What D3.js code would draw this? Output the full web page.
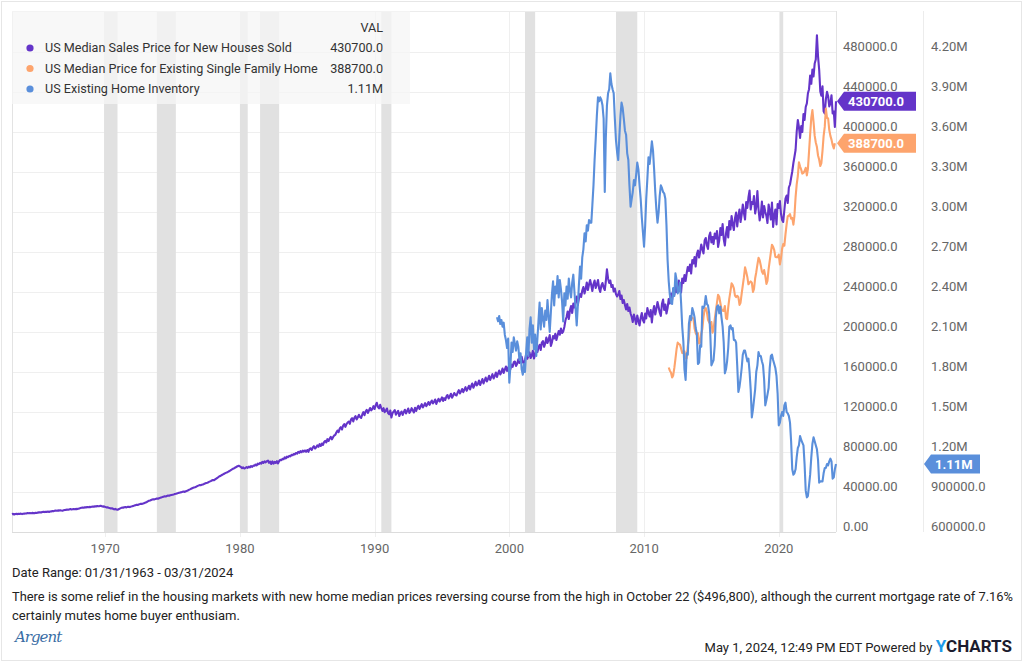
<!DOCTYPE html>
<html><head><meta charset="utf-8">
<script src="https://cdn.jsdelivr.net/npm/d3@7/dist/d3.min.js"></script>
<style>
html,body{margin:0;padding:0;background:#fff;}
svg{display:block;font-family:Roboto,"Noto Sans",sans-serif;}
</style></head>
<body><svg id="c" width="1024" height="662"></svg>
<script>
// ---------- DATA ----------
const seriesNames = ["US Median Sales Price for New Houses Sold","US Median Price for Existing Single Family Home","US Existing Home Inventory"];
const lastLabels = ["430700.0","388700.0","1.11M"];
// New houses sold, monthly from 1963-01 (thousands USD)
const newHouseStart = [1963, 0];
const newHouse = [
17.8,18.2,17.5,18.0,18.1,17.9,18.3,18.0,18.4,17.9,18.2,18.4,
18.5,18.6,18.9,18.7,19.0,18.8,19.1,18.9,18.7,19.2,19.0,19.4,
19.6,19.8,19.5,20.0,20.2,19.9,20.3,20.1,20.4,20.0,20.5,20.6,
21.0,20.8,21.2,21.5,21.3,21.6,21.4,21.8,21.5,21.3,21.7,22.0,
22.1,22.4,22.2,22.6,22.9,22.5,22.8,23.0,22.7,23.1,22.9,23.3,
23.6,23.9,24.2,24.5,24.3,24.8,24.6,25.0,24.7,25.1,24.9,25.3,
25.5,25.2,25.8,25.6,26.0,25.7,25.9,26.2,25.8,25.4,25.6,25.1,
24.6,24.8,24.2,23.9,23.5,23.8,23.2,22.6,23.2,22.5,22.2,22.8,
23.4,23.9,24.4,24.2,24.8,25.0,24.6,25.1,25.3,24.9,25.4,25.7,
26.1,26.4,26.8,27.2,27.0,27.6,27.9,28.3,28.1,28.6,29.0,29.4,
30.0,30.6,31.2,31.5,32.0,32.4,32.8,32.6,33.1,33.5,33.2,33.8,
34.2,34.6,34.9,35.3,35.7,35.5,36.0,36.4,36.2,36.7,37.0,37.3,
37.6,37.9,38.2,38.6,38.9,39.3,39.6,39.8,40.2,40.5,40.1,40.8,
41.3,41.8,42.4,42.9,43.5,44.0,44.4,44.8,45.3,45.9,46.4,46.9,
46.8,47.2,47.5,48.0,48.6,49.0,49.3,49.8,50.4,50.9,51.5,52.0,
51.8,52.6,53.4,54.2,55.0,55.8,56.3,57.0,57.6,58.2,58.8,59.4,
59.8,60.5,61.2,61.9,62.6,63.3,63.8,64.5,65.2,65.8,66.3,65.6,
64.9,63.8,64.6,63.5,64.2,65.0,64.1,65.4,64.6,66.0,65.2,66.4,
66.2,67.5,66.6,68.4,67.8,69.2,68.4,70.2,69.0,70.6,69.6,70.8,
71.4,69.2,70.5,68.0,70.6,68.4,70.2,69.0,70.8,68.6,71.0,72.2,
71.8,73.2,72.8,74.6,73.6,75.4,74.8,76.2,75.6,77.2,76.8,78.0,
77.6,79.0,78.4,80.2,79.2,80.8,79.8,81.4,80.4,81.6,80.2,82.0,
80.2,82.8,83.6,82.0,84.5,85.8,83.5,84.8,86.6,85.2,87.8,86.0,
88.5,87.0,89.8,91.2,89.5,92.8,91.0,93.5,95.2,92.6,94.8,96.5,
97.2,99.5,101.5,99.8,103.5,104.8,102.5,106.5,108.0,105.2,107.8,109.5,
110.5,108.2,112.5,113.8,110.5,114.2,115.8,112.6,114.5,117.2,115.0,114.0,
117.5,119.8,116.8,120.5,122.2,119.0,121.5,124.0,121.6,123.2,125.8,123.0,
127.0,129.2,125.0,123.5,127.2,124.0,121.0,123.8,119.8,121.2,123.5,119.0,
117.8,121.5,114.5,118.8,120.5,122.0,117.2,119.5,121.2,116.0,118.6,120.5,
117.0,119.8,122.2,118.5,121.0,123.5,119.0,120.8,123.8,121.5,119.6,124.2,
121.0,124.0,126.2,123.0,125.5,127.8,124.6,126.5,128.8,125.8,127.5,130.0,
127.2,129.5,131.5,128.6,130.2,132.5,128.0,131.0,133.2,130.5,132.2,134.6,
131.0,133.8,132.0,135.5,137.0,133.5,135.8,138.2,134.2,136.5,139.0,137.2,
136.5,139.5,141.8,138.5,140.6,143.0,139.8,142.5,144.8,141.2,143.6,146.2,
142.5,145.8,148.5,144.2,147.0,150.2,146.5,148.2,151.5,147.0,149.8,153.0,
148.5,151.5,154.5,150.5,153.0,156.2,152.0,155.0,157.8,153.5,156.0,159.5,
155.0,158.5,161.5,157.5,160.0,163.5,159.0,162.5,165.5,161.0,164.0,166.8,
163.0,167.5,165.2,169.8,170.5,166.0,168.2,172.8,169.0,171.5,175.2,170.0,
168.5,172.0,177.5,173.2,175.8,179.6,174.0,176.5,181.2,173.5,178.0,182.5,
180.0,184.5,187.2,182.0,189.5,191.0,185.2,188.6,194.5,189.0,192.2,197.0,
186.0,189.5,196.0,193.5,198.2,192.0,196.5,201.0,197.2,203.5,199.0,200.5,
205.0,211.5,215.0,220.5,213.0,221.5,226.0,219.0,228.5,224.5,231.0,235.5,
227.0,233.5,238.0,235.0,241.5,245.0,238.5,243.0,249.5,242.0,247.5,252.0,
246.5,241.0,248.0,251.5,244.0,247.5,252.0,243.5,240.0,246.5,249.0,244.5,
242.0,250.5,262.6,253.5,249.0,251.5,245.0,247.0,240.5,243.5,238.0,235.5,
237.5,241.0,233.0,236.5,229.0,232.0,227.0,222.5,228.0,221.0,224.5,218.5,
215.0,210.0,217.5,213.0,208.0,216.5,211.0,206.5,214.0,219.0,212.0,209.5,
218.5,213.5,224.0,219.0,215.5,222.0,209.5,220.5,226.0,217.5,223.0,230.0,
225.0,219.5,216.0,228.0,232.5,222.0,227.5,218.5,224.0,233.0,228.5,238.5,
232.0,243.0,237.5,246.5,240.0,244.5,251.5,246.0,239.5,253.5,249.0,257.0,
251.0,258.5,265.0,261.0,267.5,258.5,272.0,268.5,275.0,265.5,277.5,281.5,
274.5,280.0,287.5,283.0,278.5,291.5,294.0,286.5,283.0,296.0,299.5,289.5,
295.0,288.0,298.5,293.5,301.0,285.0,291.5,304.0,297.0,308.0,293.0,286.5,
298.5,305.0,294.5,311.0,302.5,316.0,308.0,302.0,313.5,319.5,305.5,316.0,
322.5,310.0,317.5,327.5,319.0,312.5,330.0,324.0,334.5,341.5,322.5,330.0,
328.0,336.0,318.5,325.0,341.0,323.0,311.5,318.0,330.5,314.5,326.0,320.0,
316.0,309.0,327.5,321.0,312.5,329.5,305.0,316.5,322.5,307.5,328.0,324.0,
331.0,318.5,312.0,310.0,322.0,333.5,336.5,329.0,344.5,347.5,354.0,360.5,
369.0,375.0,382.0,400.0,412.0,405.0,394.0,406.0,400.0,418.0,412.0,425.0,
428.6,438.5,442.8,456.4,448.2,462.5,455.6,468.4,472.5,496.8,475.6,462.2,
440.4,436.2,445.6,420.8,418.5,432.6,440.2,435.8,425.6,428.4,436.8,418.6,
420.5,405.0,430.7
];
// Existing single family median price, monthly from 2011-10 (thousands USD)
const existingStart = [2011, 9];
const existing = [
164.5,161.3,159.5,
154.6,156.6,164.1,173.2,183.0,189.4,188.1,187.4,183.6,178.9,180.6,180.8,
173.6,173.8,186.2,193.7,208.7,214.8,214.2,213.5,203.6,198.9,197.1,198.8,
188.5,189.3,198.5,203.0,214.8,222.5,223.9,220.0,212.2,209.7,207.8,210.0,
199.3,202.6,212.6,221.2,229.4,237.3,235.3,229.0,222.8,221.3,221.0,226.0,
213.8,212.9,224.6,233.7,240.9,248.6,246.9,243.6,236.4,234.9,236.2,234.9,
227.1,229.3,238.5,246.6,254.8,264.7,260.2,255.1,247.7,249.4,250.6,249.3,
240.1,243.2,253.7,259.8,267.4,274.2,271.7,266.6,260.4,258.2,261.9,256.1,
248.1,251.1,262.8,271.2,279.5,287.3,285.2,281.9,275.1,274.9,274.8,277.4,
267.5,273.6,283.3,288.0,286.4,297.7,307.6,315.8,316.3,317.9,313.2,314.1,
307.4,316.0,334.8,347.4,356.0,369.6,365.4,362.3,358.4,359.1,361.0,364.2,
356.6,362.8,380.4,397.6,414.2,421.9,410.2,396.3,389.5,384.9,376.5,372.3,
366.0,368.8,381.2,395.8,405.1,423.4,414.2,413.5,402.2,396.1,392.4,387.0,
383.5,388.7
];
// Existing home inventory, monthly from 1999-01 (millions)
const inventoryStart = [1999, 0];
const inventory = [
2.21,2.18,2.22,2.16,2.19,2.14,2.17,2.08,2.04,1.98,2.05,1.72,
1.85,2.02,1.95,2.06,2.01,1.96,2.03,1.99,1.89,1.94,1.82,1.78,
1.86,1.80,1.95,2.06,1.92,2.12,2.21,2.02,2.15,1.97,2.08,1.92,
2.05,2.18,2.32,2.12,2.28,2.20,2.14,2.26,2.19,2.34,2.22,2.10,
2.25,2.38,2.48,2.30,2.44,2.39,2.52,2.36,2.49,2.42,2.33,2.18,
2.39,2.30,2.44,2.35,2.50,2.41,2.36,2.47,2.53,2.40,2.28,2.15,
2.30,2.45,2.59,2.50,2.66,2.72,2.84,2.78,2.90,2.86,2.94,2.92,
2.92,3.05,3.20,3.39,3.55,3.72,3.86,3.83,3.86,3.84,3.80,3.70,
3.15,3.55,3.80,3.89,3.92,4.04,3.96,3.92,3.89,3.70,3.54,3.45,
3.39,3.56,3.72,3.82,3.78,3.70,3.61,3.58,3.44,3.39,3.20,3.04,
3.10,3.15,3.24,3.20,3.28,3.37,3.32,3.20,3.10,2.96,2.85,2.74,
2.90,3.10,3.25,3.41,3.36,3.44,3.53,3.46,3.32,3.15,3.02,2.92,
3.00,3.12,3.20,3.18,3.15,3.14,3.10,2.90,2.64,2.48,2.38,2.32,
2.31,2.43,2.37,2.54,2.49,2.39,2.41,2.47,2.32,2.14,2.03,1.82,
1.74,1.94,1.93,2.16,2.22,2.19,2.28,2.25,2.21,2.13,2.09,1.86,
1.87,2.00,1.99,2.29,2.28,2.30,2.37,2.31,2.30,2.24,2.09,1.85,
1.87,1.89,2.00,2.21,2.29,2.30,2.24,2.29,2.21,2.14,2.02,1.79,
1.82,1.88,1.98,2.14,2.15,2.12,2.13,2.04,2.04,2.02,1.85,1.65,
1.69,1.75,1.83,1.93,1.96,1.96,1.92,1.88,1.90,1.80,1.67,1.46,
1.52,1.59,1.67,1.80,1.85,1.95,1.92,1.92,1.88,1.85,1.74,1.55,
1.59,1.63,1.68,1.83,1.92,1.93,1.89,1.86,1.83,1.77,1.64,1.40,
1.42,1.47,1.50,1.47,1.55,1.57,1.50,1.49,1.47,1.42,1.28,1.07,
1.03,1.04,1.07,1.16,1.23,1.25,1.32,1.29,1.27,1.25,1.11,0.91,
0.86,0.87,0.95,1.03,1.16,1.26,1.31,1.28,1.25,1.22,1.14,0.97,
0.98,0.98,0.98,1.04,1.08,1.08,1.11,1.10,1.13,1.15,1.13,1.00,
1.01,1.07,1.11
];
const recessions = [
 ["1969-12-01","1970-11-30"],["1973-11-01","1975-03-31"],["1980-01-01","1980-07-31"],
 ["1981-07-01","1982-11-30"],["1990-07-01","1991-03-31"],["2001-03-01","2001-11-30"],
 ["2007-12-01","2009-06-30"],["2020-02-01","2020-04-30"]
];
const leftTicks = [0,40000,80000,120000,160000,200000,240000,280000,320000,360000,400000,440000,480000];
const leftTickLabels = ["0.00","40000.00","80000.00","120000.0","160000.0","200000.0","240000.0","280000.0","320000.0","360000.0","400000.0","440000.0","480000.0"];
const rightTicks = [600000,900000,1200000,1500000,1800000,2100000,2400000,2700000,3000000,3300000,3600000,3900000,4200000];
const rightTickLabels = ["600000.0","900000.0","1.20M","1.50M","1.80M","2.10M","2.40M","2.70M","3.00M","3.30M","3.60M","3.90M","4.20M"];
const xTickYears = [1970,1980,1990,2000,2010,2020];
const dateRange = ["1963-01-31","2024-03-31"];
const colors = ["#6434c9","#fda46d","#5a8fdb"];

// ---------- BUILD ----------
function monthly(start, vals, mult){
  return vals.map((v,i)=>({d:new Date(start[0], start[1]+i+1, 0), v:v*mult}));
}
const sNew = monthly(newHouseStart, newHouse, 1000);
const sExist = monthly(existingStart, existing, 1000);
const sInv = monthly(inventoryStart, inventory, 1e6);

const svg = d3.select("#c");
const X0=12, X1=836, YT=11, YB=532;
const parse = d3.timeParse("%Y-%m-%d");
const x = d3.scaleTime().domain(dateRange.map(parse)).range([X0,X1]);
const yL = d3.scaleLinear().domain([0,480000]).range([YB,52]);
const yR = d3.scaleLinear().domain([600000,4200000]).range([YB,52]);

svg.append("rect").attr("x",1.5).attr("y",1.5).attr("width",1020).attr("height",659)
  .attr("fill","#fff").attr("stroke","#e6e6e6");

// gridlines
const g = svg.append("g");
g.selectAll(".hg").data(leftTicks).join("line")
  .attr("x1",X0).attr("x2",X1).attr("y1",d=>Math.round(yL(d))+0.5).attr("y2",d=>Math.round(yL(d))+0.5)
  .attr("stroke","#efefef").attr("stroke-width",1);
g.selectAll(".vg").data(xTickYears).join("line")
  .attr("x1",d=>Math.round(x(new Date(d,0,1)))+0.5).attr("x2",d=>Math.round(x(new Date(d,0,1)))+0.5)
  .attr("y1",YT).attr("y2",YB+5).attr("stroke","#efefef").attr("stroke-width",1);

// recession bands
g.selectAll(".rb").data(recessions).join("rect")
  .attr("x",d=>x(parse(d[0]))).attr("width",d=>Math.max(2,x(parse(d[1]))-x(parse(d[0]))))
  .attr("y",YT).attr("height",YB-YT).attr("fill","#e1e1e1");

// frame lines
g.append("line").attr("x1",X0+0.5).attr("x2",X0+0.5).attr("y1",YT).attr("y2",YB).attr("stroke","#e3e3e3");
g.append("line").attr("x1",X0).attr("x2",X1).attr("y1",YB+0.5).attr("y2",YB+0.5).attr("stroke","#dcdcdc");
g.append("line").attr("x1",X1+0.5).attr("x2",X1+0.5).attr("y1",YT).attr("y2",YB).attr("stroke","#e3e3e3");
g.append("line").attr("x1",923.5).attr("x2",923.5).attr("y1",YT).attr("y2",YB).attr("stroke","#ececec");
g.append("line").attr("x1",X0).attr("x2",X1).attr("y1",YT+0.5).attr("y2",YT+0.5).attr("stroke","#ececec");

// lines
const lineL = d3.line().x(d=>x(d.d)).y(d=>yL(d.v));
const lineR = d3.line().x(d=>x(d.d)).y(d=>yR(d.v));
const lg = svg.append("g").attr("fill","none").attr("stroke-width",2.1).attr("stroke-linejoin","round");
lg.append("path").datum(sNew).attr("d",lineL).attr("stroke",colors[0]);
lg.append("path").datum(sExist).attr("d",lineL).attr("stroke",colors[1]);
lg.append("path").datum(sInv).attr("d",lineR).attr("stroke",colors[2]);

// axes labels
const ax = svg.append("g").attr("font-size",13).attr("fill","#666");
ax.selectAll(".lt").data(leftTicks).join("text")
  .attr("x",843).attr("y",(d)=>yL(d)-1.5).text((d,i)=>leftTickLabels[i]);
ax.selectAll(".rt").data(rightTicks).join("text")
  .attr("x",931).attr("y",(d)=>yR(d)-1.5).text((d,i)=>rightTickLabels[i]);
ax.selectAll(".xt").data(xTickYears).join("text")
  .attr("x",d=>x(new Date(d,0,1))).attr("y",553).attr("text-anchor","middle").text(d=>d);

// legend
const leg = svg.append("g");
leg.append("rect").attr("x",12).attr("y",11).attr("width",398).attr("height",93)
  .attr("fill","#f6f6f6").attr("fill-opacity",0.75);
leg.append("text").attr("x",383).attr("y",32).attr("text-anchor","end").attr("font-size",12.6).attr("fill","#333").text("VAL");
const rowsY=[52,72.5,93];
seriesNames.forEach((n,i)=>{
  leg.append("circle").attr("cx",30).attr("cy",rowsY[i]-4).attr("r",3.6).attr("fill",colors[i]);
  leg.append("text").attr("x",45).attr("y",rowsY[i]).attr("font-size",12.6).attr("fill","#333").text(n);
  leg.append("text").attr("x",383).attr("y",rowsY[i]).attr("text-anchor","end").attr("font-size",12.6).attr("fill","#333").text(lastLabels[i]);
});

// last value flags
function flag(tipX, yv, w, col, label){
  const h=19, a=7;
  const pts=[[tipX,yv],[tipX+a,yv-h/2],[tipX+w,yv-h/2],[tipX+w,yv+h/2],[tipX+a,yv+h/2]];
  svg.append("polygon").attr("points",pts.map(p=>p.join(",")).join(" ")).attr("fill",col);
  svg.append("text").attr("x",tipX+a+4).attr("y",yv+4.5).attr("font-size",13).attr("font-weight","bold")
    .attr("fill","#fff").text(label);
}
flag(837, yL(sNew[sNew.length-1].v), 79, colors[0], lastLabels[0]);
flag(837, yL(sExist[sExist.length-1].v), 79, colors[1], lastLabels[1]);
flag(924, yR(sInv[sInv.length-1].v), 56, colors[2], lastLabels[2]);

// footer text
const ft = svg.append("g").attr("font-size",13).attr("fill","#222");
ft.append("text").attr("x",12).attr("y",577).text("Date Range: 01/31/1963 - 03/31/2024");
ft.append("text").attr("x",12).attr("y",601).attr("textLength",1001).attr("lengthAdjust","spacingAndGlyphs")
  .text("There is some relief in the housing markets with new home median prices reversing course from the high in October 22 ($496,800), although the current mortgage rate of 7.16%");
ft.append("text").attr("x",12).attr("y",620).text("certainly mutes home buyer enthusiam.");
svg.append("text").attr("x",15).attr("y",642).attr("font-family","'DejaVu Serif',serif").attr("font-style","italic")
  .attr("font-size",15).attr("fill","#3a6ea5").attr("letter-spacing",-1).text("Argent");
const fr = svg.append("text").attr("x",1012).attr("y",652).attr("text-anchor","end").attr("font-size",13).attr("fill","#222");
fr.append("tspan").text("May 1, 2024, 12:49 PM EDT Powered by ");
fr.append("tspan").attr("font-weight","bold").attr("font-size",17).attr("fill","#1e9be9").text("Y");
fr.append("tspan").attr("font-weight","bold").attr("font-size",17).attr("fill","#1c1c2e").text("CHARTS");
</script></body></html>
